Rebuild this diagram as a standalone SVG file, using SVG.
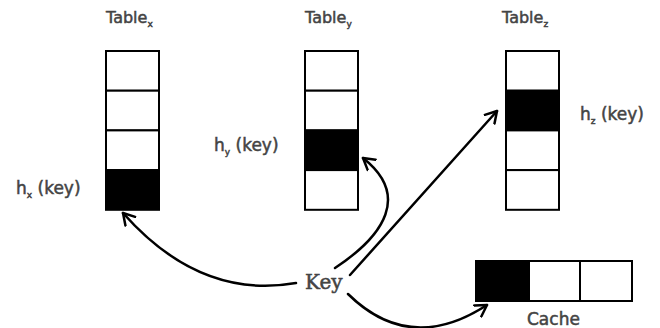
<svg xmlns="http://www.w3.org/2000/svg" width="660" height="328" viewBox="0 0 660 328">
<defs>
<marker id="arr" markerWidth="16" markerHeight="16" refX="12" refY="8" orient="auto" markerUnits="userSpaceOnUse">
<path d="M1,1.5 L12,8 L1,14.5" fill="none" stroke="#000" stroke-width="2.5" stroke-linecap="round" stroke-linejoin="round"/>
</marker>
</defs>
<style>
.lbl{font-family:"DejaVu Sans",Verdana,sans-serif;font-size:16px;fill:#444;stroke:#444;stroke-width:0.5}
.h{font-size:17px}
.sub{font-size:9px}
.key{font-family:"DejaVu Serif","Liberation Serif",serif;font-size:20px;fill:#444;stroke:#444;stroke-width:0.5}
.cell{fill:#fff;stroke:#000;stroke-width:2}
.on{fill:#000;stroke:#000;stroke-width:2}
.conn{fill:none;stroke:#000;stroke-width:2.5;stroke-linecap:round}
</style>
<rect width="660" height="328" fill="#fff"/>
<g id="tablex">
<text class="lbl" x="106" y="23">Table<tspan class="sub" dy="4">x</tspan></text>
<rect class="cell" x="106" y="51" width="53" height="39.7"/>
<rect class="cell" x="106" y="90.7" width="53" height="39.7"/>
<rect class="cell" x="106" y="130.4" width="53" height="39.7"/>
<rect class="on" x="106" y="170.1" width="53" height="39.7"/>
<text class="lbl h" x="16" y="194">h<tspan class="sub" dy="4">x</tspan><tspan dy="-4"> (key)</tspan></text>
</g>
<g id="tabley">
<text class="lbl" x="305" y="23">Table<tspan class="sub" dy="4">y</tspan></text>
<rect class="cell" x="305" y="51" width="53" height="39.7"/>
<rect class="cell" x="305" y="90.7" width="53" height="39.7"/>
<rect class="on" x="305" y="130.4" width="53" height="39.7"/>
<rect class="cell" x="305" y="170.1" width="53" height="39.7"/>
<text class="lbl h" x="214" y="151">h<tspan class="sub" dy="4">y</tspan><tspan dy="-4"> (key)</tspan></text>
</g>
<g id="tablez">
<text class="lbl" x="502" y="23">Table<tspan class="sub" dy="4">z</tspan></text>
<rect class="cell" x="506" y="51" width="53" height="39.7"/>
<rect class="on" x="506" y="90.7" width="53" height="39.7"/>
<rect class="cell" x="506" y="130.4" width="53" height="39.7"/>
<rect class="cell" x="506" y="170.1" width="53" height="39.7"/>
<text class="lbl h" x="580" y="120">h<tspan class="sub" dy="4">z</tspan><tspan dy="-4"> (key)</tspan></text>
</g>
<g id="cache">
<rect class="on" x="476" y="261" width="53" height="40"/>
<rect class="cell" x="529" y="261" width="51" height="40"/>
<rect class="cell" x="580" y="261" width="52" height="40"/>
<text class="lbl h" x="527" y="325">Cache</text>
</g>
<g id="key">
<text class="key" x="305" y="289">Key</text>
</g>
<g id="connectors">
<path class="conn" d="M296,283 Q200,300 123,213" marker-end="url(#arr)"/>
<path class="conn" d="M335,268 C385,235 410,195 363,158" marker-end="url(#arr)"/>
<path class="conn" d="M350,275 L497,111" marker-end="url(#arr)"/>
<path class="conn" d="M348,294 Q410,355 487,305" marker-end="url(#arr)"/>
</g>
</svg>
